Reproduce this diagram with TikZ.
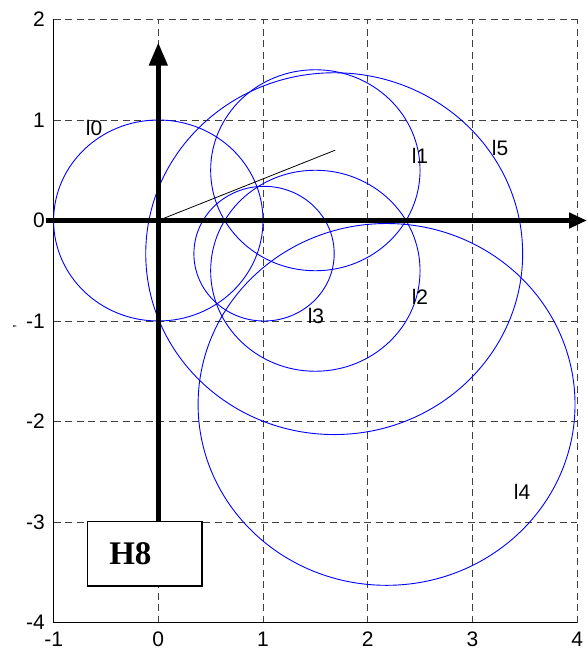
\documentclass[tikz,border=0pt]{standalone}
\usepackage{fontspec}
\setmainfont{Liberation Sans}
\newfontfamily\serifbold{Liberation Serif}
\usetikzlibrary{arrows.meta}
\begin{document}
\begin{tikzpicture}[x=104.7pt,y=100.5pt,
  gridline/.style={draw=black!75, line width=0.9pt, dash pattern=on 7pt off 4.5pt},
  frameline/.style={draw=black, line width=1pt},
  circ/.style={draw=blue, line width=0.9pt},
  ticklab/.style={inner sep=0pt, font=\fontsize{21}{21}\selectfont},
  clab/.style={inner sep=0pt, font=\fontsize{21}{21}\selectfont},
  axisarrow/.style={line width=4.5pt},
  thinline/.style={draw=black, line width=0.8pt}]
\useasboundingbox (-1.512,-4.2836) rectangle (4.0945,2.194);
% grid
\foreach \gx in {0,1,2,3,4} \draw[gridline] (\gx,-4) -- (\gx,2);
\foreach \gy in {-3,-2,-1,0,1,2} \draw[gridline] (-1,\gy) -- (4,\gy);
% frame
\draw[frameline] (-1,2) -- (-1,-4) -- (4,-4);
% tick labels
\foreach \ty in {2,1,0,-1,-2,-3,-4} \node[ticklab, anchor=east] (ty\ty) at (-1.082,\ty) {\ty};
\foreach \tx in {-1,0,1,2,3,4} \node[ticklab, anchor=base] (tx\tx) at (\tx,-4.236) {\tx};
\node[rotate=90, inner sep=0pt, font=\fontsize{14}{14}\selectfont] (ylab) at (-1.37,-1.057) {,};
% circles
\draw[circ] (0,0) ellipse [x radius=104.7pt, y radius=100.5pt];
\draw[circ] (1.5,0.5) ellipse [x radius=104.7pt, y radius=100.5pt];
\draw[circ] (1.5,-0.5) ellipse [x radius=104.7pt, y radius=100.5pt];
\draw[circ] (1.01,-0.33) ellipse [x radius=70.15pt, y radius=67.34pt];
\draw[circ] (2.18,-1.83) ellipse [x radius=188.46pt, y radius=180.9pt];
\draw[circ] (1.68,-0.33) ellipse [x radius=188.46pt, y radius=180.9pt];
% circle labels
\node[clab] (l0) at (-0.614,0.920) {l0};
\node[clab] (l1) at (2.4995,0.642) {l1};
\node[clab] (l5) at (3.264,0.721) {l5};
\node[clab] (l2) at (2.4995,-0.761) {l2};
\node[clab] (l3) at (1.506,-0.950) {l3};
\node[clab] (l4) at (3.474,-2.701) {l4};
% H8 box
\node[draw, fill=white, line width=1.6pt, anchor=north west, minimum width=114.4pt, minimum height=64.3pt, inner sep=0pt, outer sep=0pt] (h8box) at (-0.678,-2.997) {};
\node[anchor=base west, inner sep=0pt, font=\serifbold\bfseries\fontsize{33}{33}\selectfont] (h8) at (-0.470,-3.418) {H8};
% axes
\coordinate (o) at (0,0);
\coordinate (ytip) at (0,1.77);
\coordinate (xstart) at (-1.07,0);
\coordinate (xtip) at (4.0945,0);
\coordinate (lend) at (1.69,0.70);
\draw[thinline] (o) -- (lend);
\draw[axisarrow, -{Triangle[length=23pt,width=18pt]}] (h8box.north -| o) -- (ytip);
\draw[axisarrow, -{Triangle[length=18pt,width=15pt]}] (xstart) -- (xtip);
\end{tikzpicture}
\end{document}
